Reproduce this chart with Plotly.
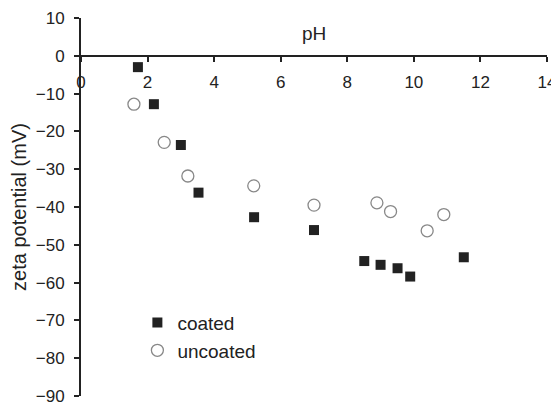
import plotly.graph_objects as go

# Data
coated_ph = [1.71, 2.19, 3.0, 3.53, 5.2, 7.0, 8.51, 9.0, 9.51, 9.89, 11.5]
coated_zeta = [-3.0, -12.8, -23.6, -36.2, -42.7, -46.1, -54.3, -55.3, -56.2, -58.4, -53.3]
uncoated_ph = [1.59, 2.5, 3.21, 5.19, 7.0, 8.89, 9.3, 10.4, 10.9]
uncoated_zeta = [-12.8, -22.9, -31.8, -34.4, -39.5, -38.9, -41.2, -46.3, -42.0]
x_ticks = [0, 2, 4, 6, 8, 10, 12, 14]
y_ticks = [10, 0, -10, -20, -30, -40, -50, -60, -70, -80, -90]

FONT = "Liberation Sans, Arial, sans-serif"
INK = "#222222"

fig = go.Figure()
fig.add_trace(go.Scatter(
    x=coated_ph, y=coated_zeta, mode="markers", name="coated",
    marker=dict(symbol="square", size=10, color=INK, line=dict(width=0)),
))
fig.add_trace(go.Scatter(
    x=uncoated_ph, y=uncoated_zeta, mode="markers", name="uncoated",
    marker=dict(symbol="circle", size=12, color="white",
                line=dict(width=1.3, color="#888888")),
))

# The page body adds an 8px margin; margins are set so the plot area lands
# where the reference has it inside the 559x404 window.
fig.update_layout(
    width=559, height=404,
    margin=dict(l=73, r=20, t=10, b=16, autoexpand=False),
    paper_bgcolor="white", plot_bgcolor="white",
    font=dict(family=FONT, color=INK),
    showlegend=True,
    legend=dict(
        x=0.121, y=0.244, xanchor="left", yanchor="top",
        font=dict(size=19, family=FONT, color=INK),
        bgcolor="rgba(0,0,0,0)", itemwidth=30, tracegroupgap=0,
    ),
    xaxis=dict(
        range=[0, 14], tickvals=x_ticks, ticktext=[str(v) for v in x_ticks],
        showgrid=False, zeroline=False, showline=True, linewidth=2, linecolor=INK,
        ticks="outside", ticklen=5, tickwidth=2, tickcolor=INK,
        tickfont=dict(size=17, family=FONT, color=INK),
        anchor="free", position=0.9, ticklabelstandoff=6, automargin=False,
        ticklabeloverflow="allow",
    ),
    yaxis=dict(
        range=[-90, 10], tickvals=y_ticks,
        showgrid=False, zeroline=False, showline=True, linewidth=2, linecolor=INK,
        ticks="outside", ticklen=5, tickwidth=2, tickcolor=INK,
        tickfont=dict(size=17, family=FONT, color=INK),
        ticklabelstandoff=6, automargin=False, ticklabeloverflow="allow",
        title=dict(text="zeta potential (mV)", font=dict(size=20, family=FONT, color=INK),
                   standoff=6),
    ),
    annotations=[dict(
        x=7, y=6, xref="x", yref="y", text="pH", showarrow=False,
        font=dict(size=19, family=FONT, color=INK),
    )],
)

fig.write_html("out.html")
